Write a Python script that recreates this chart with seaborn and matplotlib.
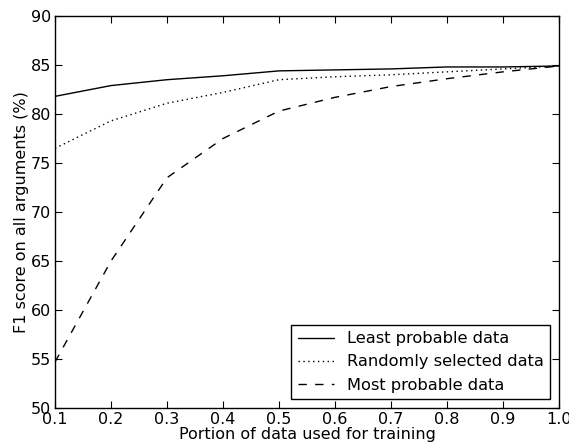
import numpy as np
import pandas as pd
import matplotlib
matplotlib.use("Agg")
import matplotlib.pyplot as plt
import seaborn as sns

portion = [0.1, 0.2, 0.3, 0.4, 0.5, 0.6, 0.7, 0.8, 0.9, 1.0]
least_probable = [81.8, 82.9, 83.5, 83.9, 84.4, 84.5, 84.6, 84.8, 84.8, 84.9]
randomly_selected = [76.5, 79.3, 81.1, 82.2, 83.5, 83.8, 84.0, 84.3, 84.6, 84.9]
most_probable = [54.7, 65.0, 73.5, 77.5, 80.3, 81.7, 82.8, 83.6, 84.3, 84.9]

labels = ["Least probable data", "Randomly selected data", "Most probable data"]

df = pd.DataFrame({
    "portion": portion * 3,
    "f1": least_probable + randomly_selected + most_probable,
    "series": [labels[0]] * 10 + [labels[1]] * 10 + [labels[2]] * 10,
})

sns.set_style("ticks")
plt.rcParams["font.family"] = ["DejaVu Sans"]
plt.rcParams["font.size"] = 11.5
plt.rcParams["text.color"] = "black"
plt.rcParams["axes.labelcolor"] = "black"
plt.rcParams["xtick.color"] = "black"
plt.rcParams["ytick.color"] = "black"

fig = plt.figure(figsize=(5.69, 4.43), dpi=100)
ax = fig.add_axes([0.0967, 0.079, 0.8857, 0.8849])

dash_map = {labels[0]: "", labels[1]: (1, 2.5), labels[2]: (6, 6)}
sns.lineplot(data=df, x="portion", y="f1", hue="series", style="series",
             palette=["black"] * 3, dashes=dash_map, linewidth=1.0,
             ax=ax, legend=True)

ax.set_xlim(0.1, 1.0)
ax.set_ylim(50, 90)
ax.set_xticks(np.arange(0.1, 1.01, 0.1))
ax.set_xticklabels(["0.1", "0.2", "0.3", "0.4", "0.5", "0.6", "0.7", "0.8", "0.9", "1.0"])
ax.set_yticks(range(50, 91, 5))
ax.tick_params(direction="in", top=True, right=True, length=5, labelsize=11.5, pad=3)
for s in ax.spines.values():
    s.set_visible(True)
    s.set_linewidth(1.0)
    s.set_color("black")

ax.set_xlabel("Portion of data used for training", fontsize=11.5, labelpad=0)
ax.set_ylabel("F1 score on all arguments (%)", fontsize=11.5, labelpad=1)

leg = ax.legend(loc="lower right", frameon=True, fancybox=False, fontsize=11.7,
                handlelength=2.2, borderaxespad=0.55)
leg.get_frame().set_edgecolor("black")
leg.get_frame().set_linewidth(1.0)
leg.get_frame().set_alpha(1)

fig.savefig("out.png", dpi=100)
